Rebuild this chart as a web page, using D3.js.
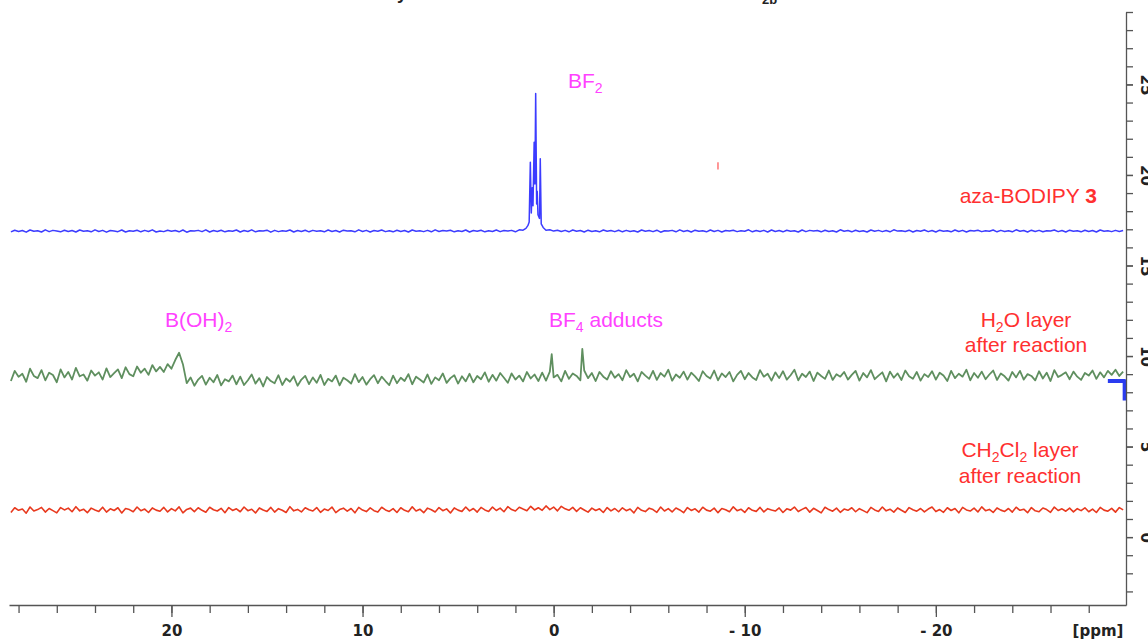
<!DOCTYPE html>
<html>
<head>
<meta charset="utf-8">
<script src="https://cdn.jsdelivr.net/npm/d3@7"></script>
<style>
  body { margin: 0; background: #fff; }
</style>
</head>
<body>
<div id="chart"></div>
<script>
var w = 1148,
    h = 639;

var ppmStart = 28.4,
    ppmStep = 0.2;

var blueVals = [
  16.86,16.95,16.88,16.93,16.84,16.96,16.89,16.92,16.85,16.97,16.87,16.94,16.90,16.86,16.95,16.88,16.93,16.85,16.96,16.89,
  16.92,16.86,16.97,16.88,16.94,16.84,16.93,16.90,16.87,16.96,16.85,16.92,16.89,16.95,16.86,16.94,16.88,16.97,16.85,16.91,
  16.87,16.95,16.89,16.93,16.86,16.96,16.84,16.92,16.90,16.94,16.87,16.97,16.85,16.93,16.88,16.95,16.86,16.92,16.89,16.96,
  16.85,16.93,16.88,16.97,16.86,16.92,16.90,16.95,16.84,16.94,16.87,16.92,16.89,16.96,16.85,16.93,16.88,16.95,16.86,16.94,
  16.89,16.92,16.86,16.96,16.88,16.93,16.85,16.95,16.90,16.92,16.86,16.97,16.88,16.94,16.85,16.93,16.89,16.96,16.87,16.92,
  16.86,16.95,16.88,16.93,16.85,16.96,16.89,16.92,16.87,16.94,16.86,16.97,16.88,16.93,16.90,16.95,16.86,16.92,16.88,16.96,
  16.85,16.93,16.89,16.95,16.86,16.92,16.88,16.96,16.87,16.93,16.90,16.94,16.86,16.97,16.88,16.95,16.90,16.93,16.88,16.96,
  16.92,16.97,16.90,16.95,16.88,16.94,16.86,16.96,16.89,16.93,16.85,16.95,16.88,16.92,16.86,16.96,16.89,16.93,16.87,16.95,
  16.86,16.94,16.88,16.92,16.85,16.96,16.89,16.93,16.87,16.95,16.84,16.92,16.90,16.94,16.86,16.97,16.88,16.93,16.85,16.95,
  16.89,16.92,16.86,16.96,16.88,16.94,16.85,16.93,16.90,16.95,16.87,16.92,16.89,16.97,16.86,16.93,16.88,16.94,16.85,16.96,
  16.88,16.93,16.86,16.95,16.89,16.92,16.85,16.96,16.87,16.94,16.90,16.93,16.86,16.95,16.88,16.92,16.85,16.97,16.89,16.93,
  16.86,16.95,16.88,16.92,16.85,16.96,16.89,16.94,16.87,16.93,16.86,16.97,16.90,16.92,16.88,16.95,16.85,16.93,16.89,16.96,
  16.87,16.93,16.85,16.95,16.89,16.92,16.86,16.96,16.88,16.94,16.85,16.93,16.90,16.95,16.87,16.92,16.89,16.96,16.86,16.94,
  16.88,16.92,16.86,16.97,16.89,16.93,16.85,16.95,16.88,16.94,16.86,16.92,16.90,16.96,16.87,16.93,16.85,16.95,16.89,16.92,
  16.86,16.95,16.88,16.93,16.85,16.96,16.89,16.92,16.87,16.94,16.88,16.93
];

// BF2 multiplet around 1 ppm, [ppm, value]
var bluePeak = [
  [1.60,16.95],[1.45,17.05],[1.35,17.2],[1.28,17.4],[1.22,20.7],[1.17,17.9],
  [1.12,19.3],[1.08,18.3],[1.02,21.8],[0.98,19.5],[0.94,24.5],[0.89,18.4],
  [0.86,19.1],[0.82,17.8],[0.74,17.6],[0.70,20.9],[0.65,17.3],[0.55,17.1],[0.40,16.95]
];

var greenVals = [
  8.62,9.18,8.85,9.02,8.58,9.30,8.90,8.78,9.22,8.66,9.08,8.95,8.55,9.26,8.82,9.12,8.70,9.35,8.88,8.98,
  8.64,9.20,8.92,9.10,8.70,9.32,8.84,9.05,9.26,8.78,9.38,9.00,8.88,9.42,9.08,9.30,8.96,9.50,9.15,9.40,
  9.12,9.55,9.30,9.78,10.18,9.55,8.50,8.82,8.36,8.70,8.90,8.42,8.80,8.55,8.95,8.38,8.72,8.60,8.92,8.44,
  8.86,8.40,8.66,8.98,8.48,8.78,8.32,8.84,8.62,8.50,8.94,8.40,8.76,8.58,8.88,8.36,8.70,8.90,8.45,8.82,
  8.52,8.96,8.40,8.74,8.60,8.92,8.38,8.80,8.66,8.48,9.00,8.56,8.84,8.42,8.72,8.94,8.50,8.86,8.62,8.40,
  8.92,8.50,8.80,8.62,9.00,8.44,8.86,8.70,8.54,8.98,8.46,8.82,8.66,9.04,8.52,8.78,8.94,8.48,8.88,8.60,
  9.02,8.55,8.90,8.72,9.10,8.58,8.96,8.64,9.06,8.80,8.52,9.04,8.70,8.92,8.60,9.12,8.76,8.98,8.62,9.08,
  8.64,9.14,8.82,8.96,8.60,9.18,8.74,9.04,8.90,8.66,9.20,8.78,9.06,8.62,9.12,8.86,8.70,9.16,8.80,9.00,
  8.66,9.22,8.84,9.02,8.60,9.12,8.92,8.74,9.18,8.68,9.06,8.86,9.24,8.64,8.98,8.80,9.14,8.70,9.08,8.88,
  8.62,9.16,8.90,8.76,9.20,8.66,9.04,8.84,9.12,8.60,8.96,9.18,8.72,9.06,8.82,8.68,9.22,8.86,9.02,8.64,
  9.10,8.78,9.16,8.70,8.94,9.24,8.66,9.02,8.84,9.14,8.62,9.08,8.90,8.74,9.20,8.68,9.00,8.86,9.12,8.70,
  8.96,9.18,8.64,9.06,8.82,9.22,8.72,8.92,9.10,8.60,9.14,8.80,9.04,8.68,9.20,8.88,8.74,9.12,8.64,9.00,
  8.84,9.16,8.70,9.08,8.92,8.62,9.18,8.78,9.02,8.86,9.24,8.66,9.06,8.80,9.14,8.72,8.98,9.20,8.68,9.04,
  8.88,8.64,9.12,8.82,9.18,8.70,9.00,8.90,8.66,9.16,8.76,9.08,8.62,9.22,8.84,8.96,9.10,8.72,9.14,8.86,
  8.68,9.06,8.92,9.20,8.74,9.10,8.82,9.18,8.96,9.24,8.90,9.14
];

// BF4 adduct spikes
var greenSpikes = [[0.1,10.1],[-1.5,10.4]];

var redVals = [
  1.36,1.62,1.48,1.55,1.32,1.66,1.44,1.52,1.64,1.38,1.58,1.46,1.34,1.63,1.50,1.60,1.40,1.68,1.45,1.54,
  1.35,1.60,1.50,1.42,1.65,1.38,1.56,1.47,1.62,1.33,1.58,1.52,1.40,1.66,1.46,1.55,1.36,1.61,1.49,1.43,
  1.64,1.39,1.57,1.45,1.67,1.34,1.53,1.60,1.41,1.62,1.48,1.37,1.65,1.51,1.44,1.59,1.35,1.63,1.47,1.56,
  1.40,1.66,1.46,1.54,1.33,1.61,1.50,1.42,1.64,1.38,1.57,1.48,1.36,1.68,1.45,1.53,1.39,1.62,1.51,1.44,
  1.63,1.37,1.55,1.47,1.66,1.35,1.52,1.60,1.43,1.58,1.34,1.64,1.49,1.41,1.61,1.46,1.38,1.65,1.50,1.42,
  1.57,1.36,1.62,1.48,1.40,1.67,1.44,1.54,1.35,1.60,1.51,1.39,1.63,1.46,1.56,1.33,1.61,1.49,1.42,1.66,
  1.45,1.58,1.38,1.64,1.50,1.42,1.66,1.47,1.60,1.40,1.68,1.52,1.44,1.65,1.55,1.46,1.70,1.50,1.62,1.48,
  1.72,1.52,1.66,1.45,1.70,1.56,1.48,1.64,1.42,1.62,1.50,1.38,1.60,1.47,1.56,1.36,1.63,1.45,1.58,1.40,
  1.62,1.46,1.55,1.34,1.64,1.48,1.41,1.60,1.52,1.37,1.66,1.44,1.57,1.39,1.61,1.50,1.35,1.63,1.47,1.56,
  1.38,1.65,1.49,1.43,1.60,1.35,1.58,1.51,1.40,1.67,1.46,1.54,1.36,1.62,1.48,1.42,1.64,1.39,1.57,1.50,
  1.44,1.61,1.36,1.56,1.49,1.66,1.41,1.53,1.63,1.38,1.59,1.47,1.34,1.65,1.52,1.43,1.60,1.37,1.55,1.48,
  1.62,1.40,1.57,1.46,1.35,1.64,1.50,1.42,1.66,1.45,1.54,1.38,1.61,1.48,1.36,1.63,1.51,1.43,1.58,1.39,
  1.55,1.66,1.41,1.52,1.37,1.62,1.47,1.58,1.34,1.64,1.50,1.44,1.60,1.39,1.67,1.46,1.53,1.36,1.61,1.49,
  1.42,1.58,1.38,1.65,1.48,1.54,1.35,1.63,1.45,1.40,1.61,1.52,1.37,1.66,1.47,1.56,1.43,1.60,1.39,1.57,
  1.46,1.62,1.40,1.55,1.36,1.64,1.49,1.43,1.59,1.38,1.63,1.50
];

// leftover pieces of other traces near the right frame
var blueTail = [[-29.0,8.62],[-29.88,8.62],[-29.88,7.55]];
var redMark = [[-8.6,20.3],[-8.6,20.7]];

var xMinorTicks = d3.range(28, -29, -2);
var xMajorTicks = [20, 10, 0, -10, -20];
var xTickLabels = ["20", "10", "0", "- 10", "- 20"];
var yMinorTicks = d3.range(-3, 30, 1);
var yMajorTicks = [0, 5, 10, 15, 20, 25];

var x = d3.scaleLinear().domain([28.5, -29.95]).range([9, 1126]),
    y = d3.scaleLinear().domain([-3.75, 29]).range([605, 12]);

var svg = d3.select("#chart")
    .append("svg")
    .attr("width", w)
    .attr("height", h)
    .style("font-family", "'Liberation Sans', Arial, sans-serif");

function onGrid(vals) {
  return vals.map(function(v, i) { return [ppmStart - ppmStep * i, v]; });
}
function byPpm(a, b) { return b[0] - a[0]; }

var blueData = onGrid(blueVals)
    .filter(function(p) { return p[0] > 1.65 || p[0] < 0.35; })
    .concat(bluePeak).sort(byPpm);
var greenData = onGrid(greenVals).concat(greenSpikes).sort(byPpm);
var redData = onGrid(redVals);

var line = d3.line()
    .x(function(d) { return x(d[0]); })
    .y(function(d) { return y(d[1]); });

var traces = [
  {data: blueData, color: "#3c3cff", width: 1.5},
  {data: greenData, color: "#5f8f5f", width: 1.8},
  {data: redData, color: "#e8391e", width: 1.6},
  {data: blueTail, color: "#2a3cf0", width: 4},
  {data: redMark, color: "#ff3030", width: 1}
];

svg.append("g")
   .selectAll("path")
   .data(traces)
   .enter()
   .append("path")
   .attr("d", function(d) { return line(d.data); })
   .attr("fill", "none")
   .attr("stroke", function(d) { return d.color; })
   .attr("stroke-width", function(d) { return d.width; })
   .attr("stroke-linejoin", "round");

// x axis
var axisColor = "#555";
var gx = svg.append("g").attr("transform", "translate(0," + y(-3.75) + ")");
gx.call(d3.axisBottom(x).tickValues(xMinorTicks).tickSize(8).tickSizeOuter(0).tickFormat(""));
gx.append("g")
  .call(d3.axisBottom(x).tickValues(xMajorTicks).tickSize(12).tickSizeOuter(0)
        .tickFormat(function(d, i) { return xTickLabels[i]; }))
  .call(function(g) { g.select(".domain").remove(); });
gx.selectAll("line, path").attr("stroke", axisColor).attr("stroke-width", 1.3);
gx.selectAll("text")
  .attr("y", 0)
  .attr("dy", null)
  .attr("transform", "translate(0,31)")
  .style("font-family", "'DejaVu Sans', sans-serif")
  .style("font-weight", "bold")
  .style("font-size", "15px")
  .attr("fill", "#222");
gx.append("text")
  .attr("x", 1098)
  .attr("y", 31)
  .attr("text-anchor", "middle")
  .style("font-family", "'DejaVu Sans', sans-serif")
  .style("font-weight", "bold")
  .style("font-size", "15px")
  .attr("fill", "#222")
  .text("[ppm]");

// right axis
var gy = svg.append("g").attr("transform", "translate(" + x(-29.95) + ",0)");
gy.call(d3.axisRight(y).tickValues(yMinorTicks).tickSize(7).tickSizeOuter(0).tickFormat(""));
gy.append("g")
  .call(d3.axisRight(y).tickValues(yMajorTicks).tickSize(7).tickSizeOuter(0))
  .call(function(g) { g.select(".domain").remove(); });
gy.selectAll("line, path").attr("stroke", axisColor).attr("stroke-width", 1.3);
gy.selectAll("text")
  .attr("x", 0)
  .attr("dy", null)
  .attr("transform", "translate(15,0) rotate(90)")
  .attr("text-anchor", "middle")
  .style("font-family", "'DejaVu Sans', sans-serif")
  .style("font-weight", "bold")
  .style("font-size", "15px")
  .attr("fill", "#222");

// annotations
var magenta = "#ff42ff",
    red = "#ff3030";

function label(px, py, anchor, color, parts) {
  var t = svg.append("text")
      .attr("x", px)
      .attr("y", py)
      .attr("text-anchor", anchor)
      .attr("fill", color)
      .style("font-size", "21px");
  parts.forEach(function(p) {
    var s = t.append("tspan").text(p.t);
    if (p.sub) s.attr("dy", 5).style("font-size", "14px");
    if (p.up) s.attr("dy", -5);
    if (p.bold) s.style("font-weight", "bold");
  });
}

label(568, 88, "start", magenta, [{t: "BF"}, {t: "2", sub: true}]);
label(1097, 203, "end", red, [{t: "aza-BODIPY "}, {t: "3", bold: true}]);
label(165, 327, "start", magenta, [{t: "B(OH)"}, {t: "2", sub: true}]);
label(549, 327, "start", magenta, [{t: "BF"}, {t: "4", sub: true}, {t: " adducts", up: true}]);
label(1026, 327, "middle", red, [{t: "H"}, {t: "2", sub: true}, {t: "O layer", up: true}]);
label(1026, 352, "middle", red, [{t: "after reaction"}]);
label(1020, 457, "middle", red, [{t: "CH"}, {t: "2", sub: true}, {t: "Cl", up: true}, {t: "2", sub: true}, {t: " layer", up: true}]);
label(1020, 483, "middle", red, [{t: "after reaction"}]);

// bits of the clipped title at the top edge
svg.append("text").attr("x", 397).attr("y", -1)
   .style("font-weight", "bold").style("font-size", "18px").attr("fill", "#222").text("y");
svg.append("text").attr("x", 762).attr("y", 4)
   .style("font-weight", "bold").style("font-size", "13px").attr("fill", "#222").text("2b");
</script>
</body>
</html>
